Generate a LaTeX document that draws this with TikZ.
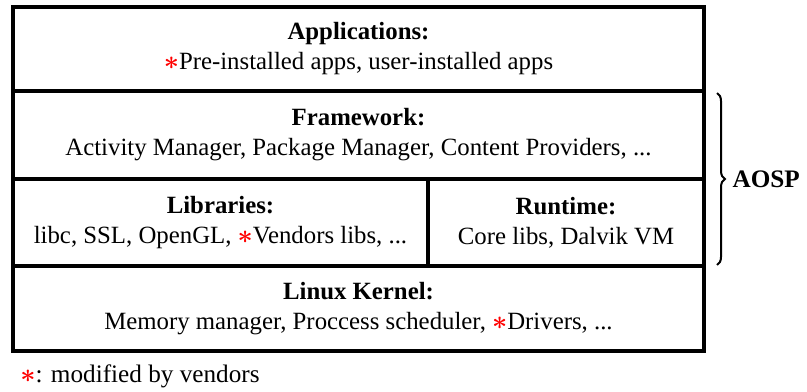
\documentclass[tikz,border=0pt]{standalone}
\usepackage{fontspec}
\setmainfont{Liberation Serif}
\usetikzlibrary{decorations.pathreplacing}
\newcommand{\vmark}{\textcolor{red}{\scalebox{1.1}{\boldmath$\ast$}}}
\begin{document}
\begin{tikzpicture}[x=0.5pt,y=-0.5pt,
  layer/.style={draw=black,line width=2pt,inner sep=0pt,align=center,font=\fontsize{12.4}{15}\selectfont},
  lbl/.style={font=\fontsize{12.6}{14}\selectfont}]
\useasboundingbox (0,0) rectangle (807,391);
\node[layer,minimum width=345.5pt,minimum height=42pt] (apps) at (358.5,49)
  {\textbf{Applications:}\\\vmark Pre-installed apps, user-installed apps};
\node[layer,minimum width=345.5pt,minimum height=44pt] (fw) at (358.5,135)
  {\textbf{Framework:}\\Activity Manager, Package Manager, Content Providers, ...};
\node[layer,minimum width=207.5pt,minimum height=43.5pt] (libs) at (220.5,222.5)
  {\textbf{Libraries:}\\libc, SSL, OpenGL, \vmark Vendors libs, ...};
\node[layer,minimum width=138pt,minimum height=43.5pt] (rt) at (566,222.5)
  {\textbf{Runtime:}\\Core libs, Dalvik VM};
\node[layer,minimum width=345.5pt,minimum height=42.5pt] (kern) at (358.5,308.5)
  {\textbf{Linux Kernel:}\\Memory manager, Proccess scheduler, \vmark Drivers, ...};
\coordinate (bt) at (717,93);
\coordinate (bb) at (717,265);
\draw[line width=1pt,decorate,decoration={brace,amplitude=4pt}]
  (bt) -- (bb) node[midway,right=4pt,lbl] (aosp) {\textbf{AOSP}};
\node[lbl,anchor=west,inner sep=0pt] (note) at (20,376) {\vmark: modified by vendors};
\end{tikzpicture}
\end{document}
